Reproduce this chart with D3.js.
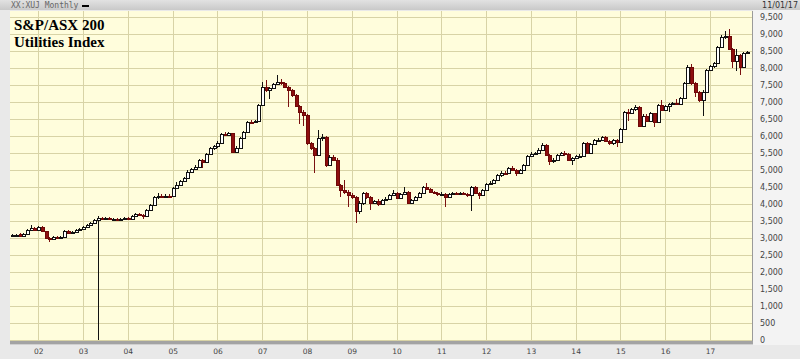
<!DOCTYPE html>
<html><head><meta charset="utf-8">
<script src="https://cdn.jsdelivr.net/npm/d3@7"></script>
<style>body{margin:0;background:#e9e9e9;overflow:hidden}svg{display:block}</style>
</head><body>
<svg id="c" width="800" height="359"></svg>
<script>
// ---- Data: monthly candles, June 2001 .. November 2017 ----
const firstMonth = "2001-06-01";
const opens = [
3050,3080,3110,3070,3120,3230,3300,
3250,3310,3200,2990,2970,3030,3000,3040,3220,3140,3170,3230,
3270,3330,3390,3450,3530,3600,3560,3590,3550,3570,3540,3570,
3600,3560,3640,3710,3680,3640,3820,3970,4200,4230,4220,4240,
4230,4470,4560,4680,4760,4950,5030,5100,5290,5240,5480,5640,
5700,5800,6060,6020,6080,5540,5650,5930,6130,6420,6400,6440,
6910,7450,7350,7400,7520,7600,7560,7430,7350,7210,6880,6720,
6620,5780,5640,5440,5930,5960,5150,5390,5300,4560,4410,4350,
4270,4200,3780,4020,4310,4200,4020,4080,4000,4130,4160,4250,
4330,4180,4300,4350,4020,4110,4200,4330,4510,4430,4350,4310,
4280,4300,4200,4290,4320,4310,4330,4290,4260,4500,4310,4250,
4400,4590,4630,4700,4850,4920,4900,5050,5000,4900,5000,5150,
5400,5470,5500,5600,5730,5440,5250,5300,5450,5500,5470,5300,
5350,5400,5420,5780,5500,5760,5880,5890,5960,5850,5780,5880,
5820,6200,6720,6670,6780,6860,6300,6600,6430,6670,6420,6900,
6770,6870,6950,6980,6950,7120,7550,8040,7550,7300,7060,7300,
7940,8050,8140,8630,8920,8950,8550,8200,8380,8030,8450];
const highs = [
3110,3130,3140,3150,3260,3380,3330,
3340,3350,3220,3020,3060,3060,3070,3250,3240,3200,3260,3300,
3360,3420,3480,3560,3650,3630,3620,3610,3600,3600,3600,3630,
3620,3670,3740,3750,3700,3840,3990,4230,4330,4290,4280,4280,
4500,4660,4720,4800,4990,5070,5140,5320,5330,5510,5670,5740,
5840,6100,6110,6130,6100,5700,5960,6160,6450,6480,6480,6940,
7600,7650,7450,7560,7800,7680,7600,7460,7380,7240,6900,6760,
6650,5820,5680,6180,6050,6000,5450,5430,5340,4600,4700,4400,
4310,4230,4100,4350,4340,4230,4120,4140,4160,4200,4290,4400,
4360,4330,4500,4380,4150,4230,4360,4540,4620,4460,4380,4340,
4340,4330,4320,4350,4360,4360,4360,4320,4530,4520,4340,4430,
4620,4680,4740,4880,4960,4970,5080,5130,5030,5030,5180,5430,
5520,5540,5640,5790,5760,5470,5340,5480,5540,5550,5500,5380,
5440,5460,5810,5810,5790,5910,5930,5990,5990,5880,5910,5920,
6230,6750,6780,6820,6900,6880,6650,6640,6700,6690,6930,7060,
6900,6980,7010,7080,7150,7600,8080,8130,7580,7330,7340,7970,
8100,8180,8660,8960,9080,9140,8600,8550,8420,8480,8510];
const lows = [
3020,3050,3040,3040,3100,3210,3220,
3230,3180,2960,2880,2940,2970,2980,3020,3110,3120,3150,3210,
3250,3310,3370,3430,0,3530,3540,3520,3530,3510,3520,3550,
3530,3540,3620,3640,3560,3620,3800,3950,4150,4170,4180,4190,
4210,4440,4540,4650,4740,4920,5000,5080,5050,5220,5460,5600,
5660,5780,5990,6000,5500,5500,5630,5910,6100,6350,6380,6420,
6890,7300,7100,7370,7500,7500,7400,6860,7150,6850,6350,6300,
5750,5600,4900,5400,5850,5100,5120,5250,4520,4200,4300,3900,
4150,3450,3700,3980,4150,3820,3990,3950,3970,4100,4130,4230,
4150,4160,4270,3990,3990,4080,4180,4300,4400,4320,4280,4240,
4250,3920,4180,4270,4280,4290,4260,4220,3800,4280,4150,4230,
4380,4570,4610,4680,4780,4870,4880,4970,4820,4880,4980,5130,
5380,5450,5480,5580,5410,5150,5220,5280,5430,5420,5260,5150,
5320,5380,5400,5460,5480,5740,5840,5860,5820,5740,5750,5690,
5800,6180,6450,6640,6750,6270,6250,6400,6400,6250,6400,6740,
6740,6720,6930,6920,6930,7100,7520,7500,7150,7000,6600,7280,
7900,8000,8120,8600,8850,8520,8000,7900,7800,8000,8420];
const closes = [
3080,3100,3070,3120,3230,3300,3250,
3310,3200,2990,2970,3030,3000,3040,3220,3140,3170,3230,3270,
3330,3390,3450,3530,3600,3560,3590,3550,3570,3540,3570,3600,
3560,3640,3710,3680,3640,3820,3970,4200,4230,4220,4240,4230,
4470,4560,4680,4760,4950,5030,5100,5290,5240,5480,5640,5700,
5800,6060,6020,6080,5540,5650,5930,6130,6420,6400,6440,6910,
7450,7350,7400,7520,7600,7560,7430,7350,7210,6880,6720,6620,
5780,5640,5440,5930,5960,5150,5390,5300,4560,4410,4350,4270,
4200,3780,4020,4310,4200,4020,4080,4000,4130,4160,4250,4330,
4180,4300,4350,4020,4110,4200,4330,4510,4430,4350,4310,4280,
4300,4200,4290,4320,4310,4330,4290,4260,4500,4310,4250,4400,
4590,4630,4700,4850,4920,4900,5050,5000,4900,5000,5150,5400,
5470,5500,5600,5730,5440,5250,5300,5450,5500,5470,5300,5350,
5400,5420,5780,5500,5760,5880,5890,5960,5850,5780,5880,5820,
6200,6720,6670,6780,6860,6300,6600,6430,6670,6420,6900,6770,
6870,6950,6980,6950,7120,7550,8040,7550,7300,7060,7300,7940,
8050,8140,8630,8920,8950,8550,8200,8380,8030,8450,8480];
const yTickValues = [0,500,1000,1500,2000,2500,3000,3500,4000,4500,5000,5500,6000,6500,7000,7500,8000,8500,9000,9500];
const xTickYears = ["2002","2003","2004","2005","2006","2007","2008","2009","2010","2011","2012","2013","2014","2015","2016","2017"];
const titleLines = ["S&P/ASX 200", "Utilities Index"];
const headerText = "XX:XUJ Monthly";
const dateText = "11/01/17";

// ---- Layout ----
const W = 800, H = 359;
const plot = {left: 10, right: 752, top: 11, bottom: 341};
const svg = d3.select("#c");

const parse = d3.timeParse("%Y-%m-%d");
const start = parse(firstMonth);
const dates = d3.timeMonth.range(start, d3.timeMonth.offset(start, closes.length));
const candles = dates.map((d, i) => ({date: d, o: opens[i], h: highs[i], l: lows[i], c: closes[i]}));
const yearDates = xTickYears.map(y => parse(y + "-01-01"));

const x = d3.scaleTime()
  .domain([yearDates[0], yearDates[yearDates.length - 1]])
  .range([38.3, 710]);
const y = d3.scaleLinear().domain([0, 9500]).range([340, 17]);

// backgrounds
svg.append("rect").attr("width", W).attr("height", H).attr("fill", "#e9e9e9");
const grad = svg.append("defs").append("linearGradient").attr("id", "hg").attr("x1", 0).attr("x2", 0).attr("y1", 0).attr("y2", 1);
grad.append("stop").attr("offset", "0%").attr("stop-color", "#e2e2e2");
grad.append("stop").attr("offset", "100%").attr("stop-color", "#c9c9c9");
svg.append("rect").attr("x", 0).attr("y", 0).attr("width", W).attr("height", plot.top - 1).attr("fill", "url(#hg)");
svg.append("rect").attr("x", plot.right + 1).attr("y", plot.top - 1).attr("width", W - plot.right - 1).attr("height", plot.bottom - plot.top + 5).attr("fill", "#f3f3f3");
svg.append("rect").attr("x", plot.left).attr("y", plot.top)
  .attr("width", plot.right - plot.left).attr("height", plot.bottom - plot.top)
  .attr("fill", "#fffddc");

// grid
const grid = svg.append("g").attr("stroke", "#d8d3a6").attr("stroke-width", 1).attr("shape-rendering", "crispEdges");
yTickValues.forEach(v => {
  const yy = Math.round(y(v)) + 0.5;
  grid.append("line").attr("x1", plot.left).attr("x2", plot.right).attr("y1", yy).attr("y2", yy);
});
yearDates.forEach(d => {
  const xx = Math.round(x(d)) + 0.5;
  grid.append("line").attr("x1", xx).attr("x2", xx).attr("y1", plot.top).attr("y2", plot.bottom);
});

// plot frame
svg.append("line").attr("x1", plot.right + 0.5).attr("x2", plot.right + 0.5).attr("y1", plot.top).attr("y2", plot.bottom + 4).attr("stroke", "#9a9a9a");
svg.append("rect").attr("x", plot.left).attr("y", plot.bottom).attr("width", plot.right - plot.left + 1).attr("height", 3).attr("fill", "#a3a3a3");
svg.append("rect").attr("x", plot.left).attr("y", plot.bottom + 3).attr("width", plot.right - plot.left + 1).attr("height", 1).attr("fill", "#d0d0d0");

// header texts
svg.append("text").attr("x", 11).attr("y", 8).text(headerText)
  .attr("font-family", "DejaVu Sans Mono").attr("font-size", 8).attr("fill", "#666");
svg.append("rect").attr("x", 82).attr("y", 5).attr("width", 7).attr("height", 2).attr("fill", "#000");
svg.append("text").attr("x", 798).attr("y", 8).attr("text-anchor", "end").text(dateText)
  .attr("font-family", "DejaVu Sans").attr("font-size", 8).attr("fill", "#333");

// y axis (right)
const yAxis = d3.axisRight(y).tickValues(yTickValues).tickFormat(d3.format(",")).tickSize(0).tickPadding(0);
const yg = svg.append("g").attr("transform", `translate(${plot.right + 8},0)`).call(yAxis);
yg.select(".domain").remove();
yg.selectAll("text").attr("font-family", "DejaVu Sans").attr("font-size", 8).attr("fill", "#444");

// x axis (bottom)
const xAxis = d3.axisBottom(x).tickValues(yearDates).tickFormat(d3.timeFormat("%y")).tickSize(0).tickPadding(0);
const xg = svg.append("g").attr("transform", `translate(0,${plot.bottom + 8})`).call(xAxis);
xg.select(".domain").remove();
xg.selectAll("text").attr("font-family", "DejaVu Sans").attr("font-size", 7.5).attr("fill", "#444");

// candles
const cg = svg.append("g").attr("shape-rendering", "crispEdges");
candles.forEach(k => {
  const cx = Math.round(x(k.date));
  const up = k.c >= k.o;
  const wickColor = up ? "#111" : "#7a1010";
  cg.append("line").attr("x1", cx + 0.5).attr("x2", cx + 0.5)
    .attr("y1", Math.round(y(k.h))).attr("y2", Math.round(y(k.l)))
    .attr("stroke", wickColor).attr("stroke-width", 1);
  const top = Math.round(y(Math.max(k.o, k.c)));
  const bot = Math.round(y(Math.min(k.o, k.c)));
  cg.append("rect").attr("x", cx - 0.5).attr("y", top + 0.5)
    .attr("width", 2.5).attr("height", Math.max(1, bot - top))
    .attr("fill", up ? "#ffffff" : "#8e0e0e")
    .attr("stroke", up ? "#111" : "#6e0808").attr("stroke-width", 1);
});

// title
const tg = svg.append("g").attr("font-family", "Liberation Serif").attr("font-weight", "bold").attr("font-size", 15).attr("fill", "#000");
titleLines.forEach((t, i) => tg.append("text").attr("x", 14).attr("y", 30 + i * 17).text(t));
</script>
</body></html>
